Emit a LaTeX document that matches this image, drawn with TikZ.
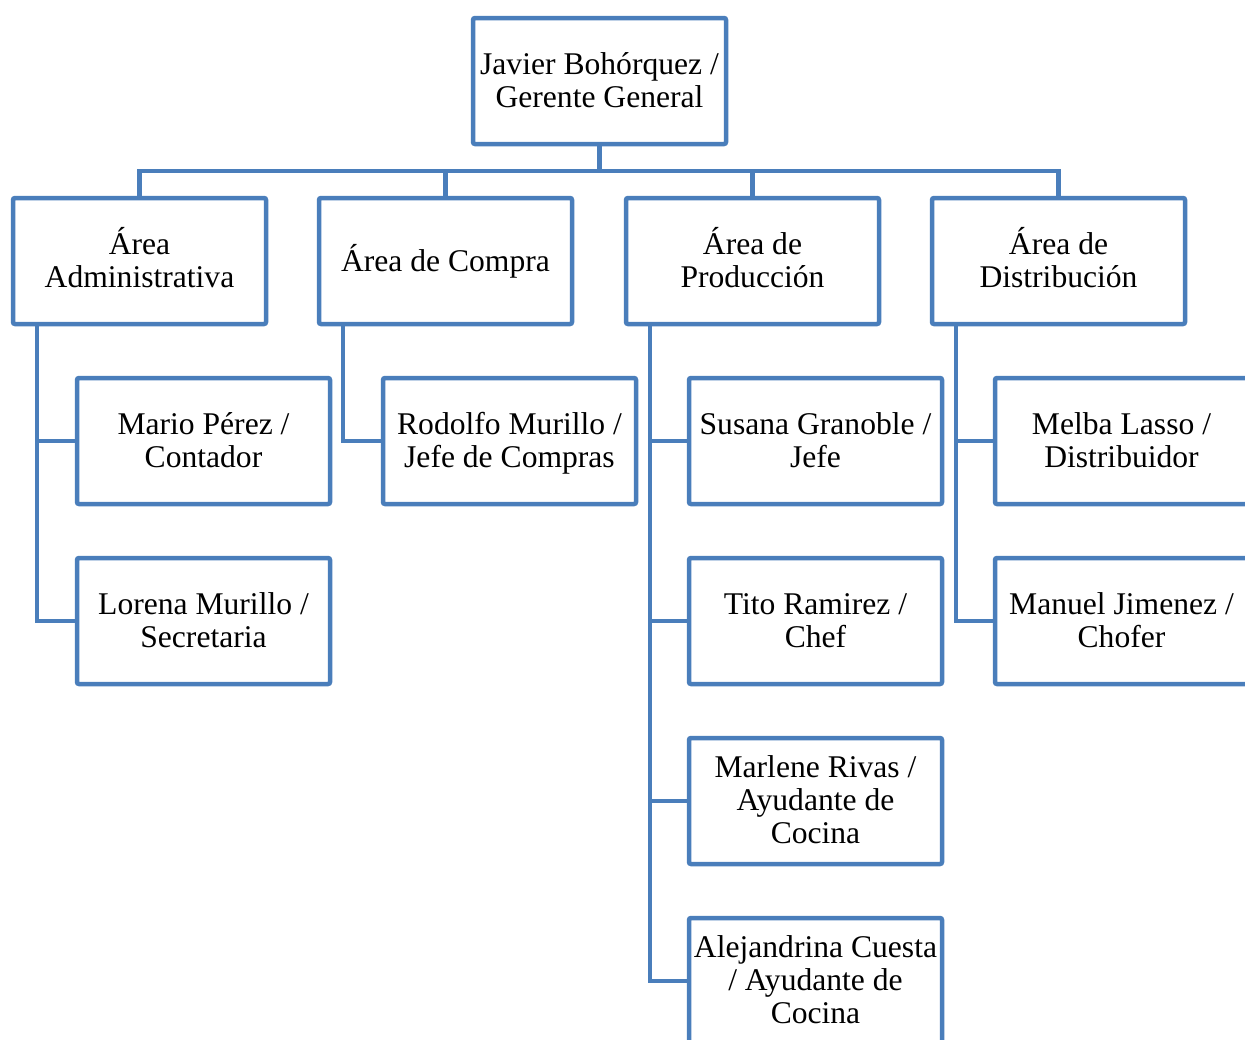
\documentclass[tikz,border=0pt]{standalone}
\usepackage{fontspec}
\usepackage{array}
\setmainfont{Liberation Serif}
\definecolor{orgblue}{RGB}{74,126,187}
% rows of 33pt with the baseline 26pt below each row's top
\setlength\extrarowheight{10pt}
\newcommand\orglines[1]{\begin{tabular}{@{}c@{}}#1\end{tabular}}
\begin{document}
\begin{tikzpicture}[x=1pt,y=-1pt,
  orgbox/.style={draw=orgblue, line width=4.5pt, rounded corners=2pt, fill=white,
    minimum width=253pt, minimum height=126pt, inner sep=2pt,
    font=\fontsize{31.6}{23}\selectfont},
  link/.style={draw=orgblue, line width=4.5pt}]
\clip (0,0) rectangle (1245,1039);
\useasboundingbox (0,0) rectangle (1245,1039);

% top of the chart
\node[orgbox] (gg) at (599.5,81) {\orglines{Javier Bohórquez /\\Gerente General}};

% areas
\node[orgbox] (adm) at (139.5,261) {\orglines{Área\\Administrativa}};
\node[orgbox] (com) at (445.5,261) {\orglines{Área de Compra}};
\node[orgbox] (pro) at (752.5,261) {\orglines{Área de\\Producción}};
\node[orgbox] (dis) at (1058.5,261) {\orglines{Área de\\Distribución}};

% staff
\node[orgbox] (ad1) at (203.5,441) {\orglines{Mario Pérez /\\Contador}};
\node[orgbox] (ad2) at (203.5,621) {\orglines{Lorena Murillo /\\Secretaria}};
\node[orgbox] (co1) at (509.5,441) {\orglines{Rodolfo Murillo /\\Jefe de Compras}};
\node[orgbox] (pr1) at (815.5,441) {\orglines{Susana Granoble /\\Jefe}};
\node[orgbox] (pr2) at (815.5,621) {\orglines{Tito Ramirez /\\Chef}};
\node[orgbox] (pr3) at (815.5,801) {\orglines{Marlene Rivas /\\Ayudante de\\Cocina}};
\node[orgbox] (pr4) at (815.5,981) {\orglines{Alejandrina Cuesta\\/ Ayudante de\\Cocina}};
\node[orgbox] (di1) at (1121.5,441) {\orglines{Melba Lasso /\\Distribuidor}};
\node[orgbox] (di2) at (1121.5,621) {\orglines{Manuel Jimenez /\\Chofer}};

% connectors from the manager to the areas
\coordinate (bus) at (599.5,171);
\draw[link] (gg.south) -- (bus);
\foreach \a in {adm,com,pro,dis}
  \draw[link] (\a.north) |- (bus);

% connectors from each area to its staff
\foreach \a/\c in {adm/ad1,adm/ad2,com/co1,pro/pr1,pro/pr2,pro/pr3,pro/pr4,dis/di1,dis/di2}
  \draw[link] ([xshift=26pt]\a.south west) |- (\c.west);
\end{tikzpicture}
\end{document}
